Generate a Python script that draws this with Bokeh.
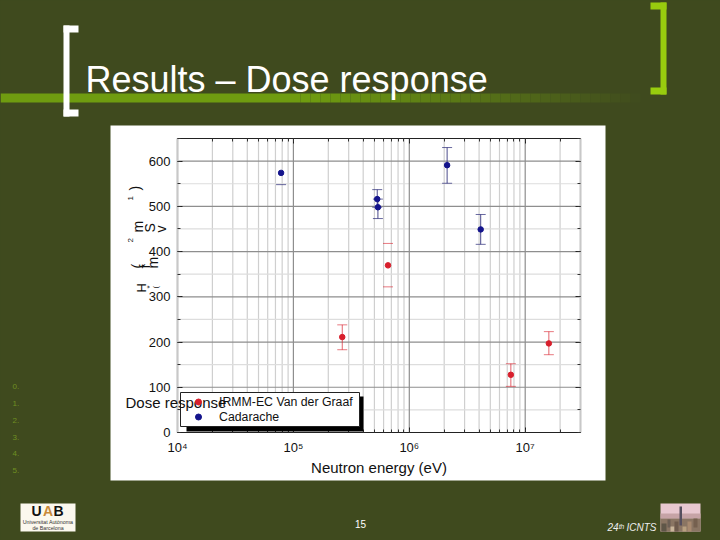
from bokeh.plotting import figure
from bokeh.embed import file_html
from bokeh.resources import INLINE
from bokeh.models import (BoxAnnotation, Label, Legend, LegendItem, LogAxis, LinearAxis, LogTicker,
                          SingleIntervalTicker, Range1d, GlobalInlineStyleSheet)
import math

# ---- data -----------------------------------------------------------------
series_names = ["IRMM-EC Van der Graaf", "Cadarache"]
nan = float("nan")
irmm_energy = [2.64e5, 6.55e5, 7.52e6, 1.60e7]
irmm_dose = [211, 369.5, 127.6, 197]
irmm_low = [183, 322, 102, 172]
irmm_high = [238, 418, 152, 223]
irmm_with_stem = [True, False, True, True]
cad_energy = [7.83e4, 5.29e5, 5.36e5, 2.12e6, 4.13e6]
cad_dose = [574, 516, 498, 591, 449]
cad_low = [548, 498, 473, 551, 416]
cad_high = [nan, 537, 516, 630, 482]
x_decades = [4, 5, 6, 7]
x_min, x_max = 1e4, 3e7
y_min, y_max = 0, 650
y_major = [0, 100, 200, 300, 400, 500, 600]
y_minor = [50, 150, 250, 350, 450, 550, 650]
x_label = "Neutron energy (eV)"
slide_title = "Results \u2013 Dose response"
bullets = ["0.", "1.", "2.", "3.", "4.", "5."]

# ---- colours --------------------------------------------------------------
BG = "#3f4a1e"
WHITE = "#ffffff"
BLUE = "#14148c"
RED = "#d81f2c"

FONT = "Liberation Sans"
W, H = 720, 540
FX0, FX1, FY0, FY1 = 177, 580, 138, 432

# The frame fills the whole slide; the ranges are stretched so the plot area lands at FX0..FX1, FY0..FY1.
kx = (FX1 - FX0) / math.log10(x_max / x_min)
ky = (FY1 - FY0) / (y_max - y_min)
p = figure(width=W, height=H, output_backend="svg", toolbar_location=None,
           x_axis_type="log", x_axis_location=None, y_axis_location=None,
           x_range=Range1d(10 ** (4 - FX0 / kx), 10 ** (4 + (W - FX0) / kx)),
           y_range=Range1d(-(H - FY1) / ky, FY1 / ky),
           min_border=0, border_fill_color=BG, background_fill_color=BG, outline_line_color=None)
p.grid.visible = False
p.stylesheets = [GlobalInlineStyleSheet(css="html,body{background:%s;overflow:hidden}" % BG)]


def box(x0, y0, x1, y1, color, level="image", alpha=1.0, line=None):
    p.add_layout(BoxAnnotation(left=x0, right=x1, top=H - y0, bottom=H - y1,
                               left_units="screen", right_units="screen", top_units="screen", bottom_units="screen",
                               fill_color=color, fill_alpha=alpha, line_color=line, line_alpha=1 if line else 0,
                               level=level, editable=False))


def text(s, x, y, size, color="#000000", angle=0.0, style="normal", align="left", level="overlay"):
    # y is the wanted baseline of upright text; the label itself is placed by its middle
    yy = y - 0.36 * size if angle == 0 else y
    p.add_layout(Label(x=x, y=H - yy, x_units="screen", y_units="screen", text=s,
                       text_font=FONT, text_font_size="%gpx" % size, text_color=color, angle=angle,
                       text_font_style=style, text_align=align, text_baseline="alphabetic", level=level))


# ---- slide decoration -----------------------------------------------------
box(110, 125, 605, 480, WHITE)
box(0, 93, 300, 102, "#6f9c10")
steps = 34
for i in range(steps):
    t = i / steps
    c = tuple(round(a + (b - a) * t) for a, b in zip((111, 156, 16), (63, 74, 30)))
    box(300 + 10 * i, 93, 310 + 10 * i, 102, "#%02x%02x%02x" % c)
for (x0, y0, x1, y1) in [(63, 25, 69, 116), (63, 25, 78, 32), (63, 109, 78, 116)]:
    box(x0, y0, x1, y1, WHITE)
for (x0, y0, x1, y1) in [(660, 2, 666, 94), (650, 2, 666, 9), (650, 87, 666, 94)]:
    box(x0, y0, x1, y1, "#98cc0e")
text(slide_title, 85, 92, 36, "#ffffff")

for i, s in enumerate(bullets):
    text(s, 12, 389 + 16.8 * i, 8, "#6f8f22")

# logo
box(20, 503, 75, 531, "#fbf8ee")
text("U", 31, 515.5, 14, "#111111", style="bold")
text("A", 42.5, 515.5, 14, "#c98a3a", style="bold")
text("B", 53, 515.5, 14, "#111111", style="bold")
text("Universitat Aut\u00f2noma", 47.5, 523, 5.3, "#333333", align="center")
text("de Barcelona", 47.5, 529.5, 5.3, "#333333", align="center")

# picture
box(660, 503, 700, 531, "#e8c8d0")
box(660, 513, 700, 518, "#c6a3a6")
box(660, 518, 700, 531, "#8a7563")
for (x0, y0, x1, y1, c) in [(679, 506, 681.5, 525, "#564f5e"), (661, 523, 666, 531, "#5f5648"), (667, 519, 670, 527, "#6c5f55"),
                            (670, 526, 674, 531, "#c9b59a"), (674, 521, 678, 531, "#6e5a4c"), (682, 526, 686, 531, "#b8a080"),
                            (687, 521, 691, 531, "#a88a70"), (693, 518, 697, 527, "#75604f")]:
    box(x0, y0, x1, y1, c)
text("15", 360, 527, 10, "#ffffff", align="center")
text("24\u1d57\u02b0 ICNTS", 607, 530.5, 10, "#eeeeee", style="italic")

# ---- grid -----------------------------------------------------------------
x_major = [10.0 ** d for d in x_decades]
x_minor = [m * 10.0 ** d for d in x_decades for m in range(2, 10) if m * 10.0 ** d <= x_max]
p.segment(x_minor, [y_min] * len(x_minor), x_minor, [y_max] * len(x_minor), line_color="#cfcfcf", line_width=1.2)
p.segment([x_min] * len(y_minor), y_minor, [x_max] * len(y_minor), y_minor, line_color="#dddddd", line_width=1.2)
p.segment(x_major, [y_min] * len(x_major), x_major, [y_max] * len(x_major), line_color="#8e8e8e", line_width=1.2)
p.segment([x_min] * len(y_major), y_major, [x_max] * len(y_major), y_major, line_color="#8e8e8e", line_width=1.2)

# ---- axes -----------------------------------------------------------------
x_ticker = LogTicker(num_minor_ticks=10)
y_ticker = SingleIntervalTicker(interval=100, num_minor_ticks=2)
super_digits = {4: "\u2074", 5: "\u2075", 6: "\u2076", 7: "\u2077"}

xa = LogAxis(ticker=x_ticker, fixed_location=y_min, bounds=(x_min, x_max))
xa.axis_label = x_label
xa.axis_label_text_font = FONT
xa.axis_label_text_font_size = "15px"
xa.axis_label_text_font_style = "normal"
xa.axis_label_text_color = "#111111"
xa.axis_label_standoff = 1
xa.major_label_overrides = {10 ** d: "10" + super_digits[d] for d in x_decades}
xa.major_label_standoff = 7

ya = LinearAxis(ticker=y_ticker, fixed_location=x_min, bounds=(y_min, y_max))
ya.major_label_standoff = 7

for a in (xa, ya):
    a.major_label_text_font = FONT
    a.major_label_text_font_size = "13px"
    a.major_label_text_color = "#111111"

top = LogAxis(ticker=x_ticker, fixed_location=y_max, bounds=(x_min, x_max),
              major_label_text_font_size="1px", major_label_text_color=None)
right = LinearAxis(ticker=y_ticker, fixed_location=x_max, bounds=(y_min, y_max),
                   major_label_text_font_size="1px", major_label_text_color=None)
p.add_layout(xa, "below")
p.add_layout(ya, "left")
p.add_layout(top, "above")
p.add_layout(right, "right")

for a in (xa, ya, top, right):
    a.major_tick_in, a.major_tick_out = 5, 0
    a.minor_tick_in, a.minor_tick_out = 3, 0
    a.major_tick_line_color = "#222222"
    a.minor_tick_line_color = "#333333"
for a in (xa, top):
    a.axis_line_color = "#222222"
for a in (ya, right):
    a.axis_line_color = "#c8c8c8"
    a.axis_line_width = 2

# ---- error bars and points ------------------------------------------------
stem_x = [x for x, s in zip(irmm_energy, irmm_with_stem) if s]
stem_l = [x for x, s in zip(irmm_low, irmm_with_stem) if s]
stem_h = [x for x, s in zip(irmm_high, irmm_with_stem) if s]
p.segment(stem_x, stem_l, stem_x, stem_h, line_color=RED, line_alpha=0.7, line_width=1)
p.segment(cad_energy, cad_low, cad_energy, cad_high, line_color="#2a2a78", line_alpha=0.85, line_width=1)
p.scatter(irmm_energy, irmm_low, marker="dash", size=10, line_color=RED, line_alpha=0.6)
p.scatter(irmm_energy, irmm_high, marker="dash", size=10, line_color=RED, line_alpha=0.6)
p.scatter(cad_energy, cad_low, marker="dash", size=10, line_color="#2a2a78", line_alpha=0.7)
p.scatter(cad_energy, cad_high, marker="dash", size=10, line_color="#2a2a78", line_alpha=0.7)
r_red = p.scatter(irmm_energy, irmm_dose, marker="circle", size=5.5, fill_color=RED, line_color=RED)
r_blue = p.scatter(cad_energy, cad_dose, marker="circle", size=5.5, fill_color=BLUE, line_color=BLUE)

# ---- legend ---------------------------------------------------------------
box(186, 396, 363, 431, "#000000", level="annotation")
box(180, 392, 359, 426, WHITE, level="annotation", line="#222222")
legend = Legend(items=[LegendItem(label=series_names[0], renderers=[r_red]),
                       LegendItem(label=series_names[1], renderers=[r_blue])],
                location=(182, H - 424), margin=0, padding=2, spacing=0, glyph_width=32, glyph_height=15,
                label_height=15, label_width=136, label_standoff=5, label_text_font=FONT, label_text_font_size="12.3px",
                label_text_color="#111111", label_text_line_height=1.0,
                border_line_color=None, background_fill_alpha=0.0, level="annotation")
p.add_layout(legend)

# ---- the broken axis title of the original slide --------------------------
text("Dose response", 125, 407, 15, "#111111")
up = math.pi / 2
fragments = [(")", 134, 190, 14), ("1", 130, 200, 8), ("m", 137, 232, 14), ("S", 149, 232, 14), ("v", 160, 232, 14),
             ("2", 130, 242, 8), ("(", 136, 268, 14), ("f", 144, 268, 14), ("m", 152, 268, 14),
             ("H", 141, 292, 13), ("*", 149, 288, 8), ("(", 155, 288, 8)]
for s, x, y, size in fragments:
    text(s, x, y, size, "#111111", angle=up)

open("out.html", "w").write(file_html(p, INLINE))
